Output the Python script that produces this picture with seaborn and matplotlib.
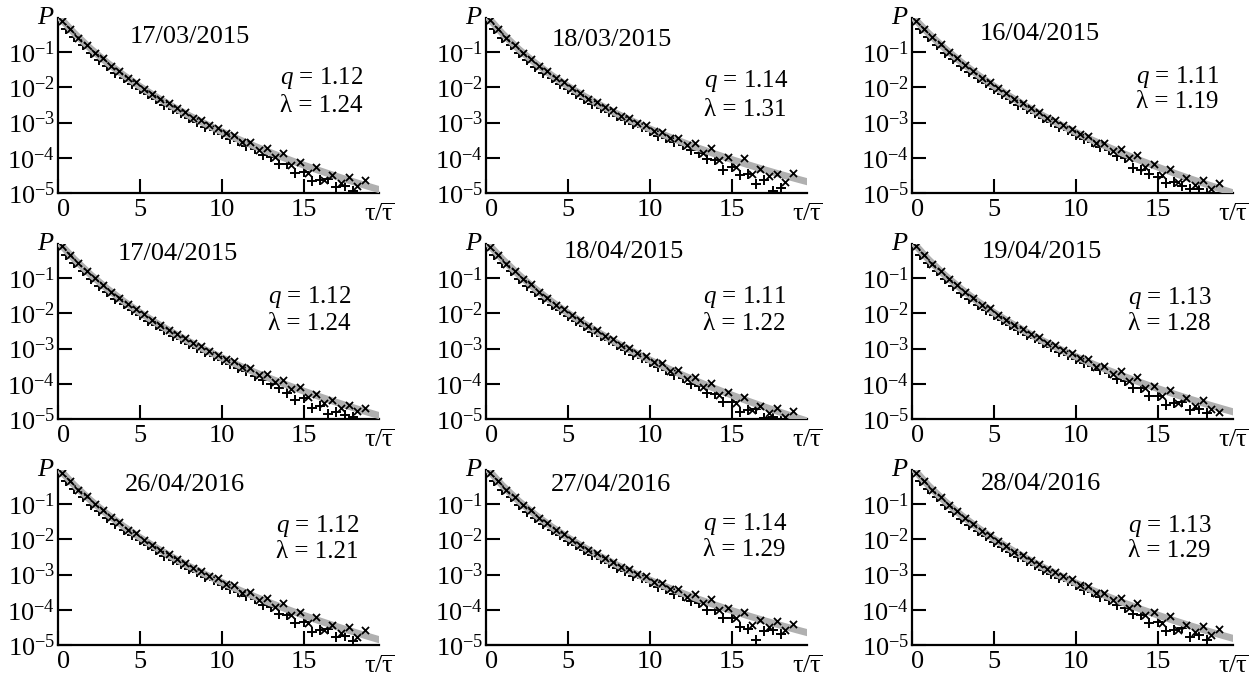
import numpy as np
import pandas as pd
import matplotlib
matplotlib.use("Agg")
import matplotlib.pyplot as plt
import matplotlib.transforms as mtrans
from matplotlib.ticker import NullLocator
import seaborn as sns

# ---------------- data (log10 P) ----------------
dates = ["17/03/2015", "18/03/2015", "16/04/2015",
         "17/04/2015", "18/04/2015", "19/04/2015",
         "26/04/2016", "27/04/2016", "28/04/2016"]
q_values = ["1.12", "1.14", "1.11", "1.12", "1.11", "1.13", "1.12", "1.14", "1.13"]
lam_values = ["1.24", "1.31", "1.19", "1.24", "1.22", "1.28", "1.21", "1.29", "1.29"]

# fitted (grey) curve, log10 P at tau = 0, 1, ..., 20
fit1 = [0.038, -0.464, -0.905, -1.298, -1.652, -1.975, -2.271, -2.545, -2.800, -3.038, -3.261, -3.471, -3.670, -3.858, -4.037, -4.208, -4.370, -4.526, -4.676, -4.819, -4.958]
fit2 = [0.052, -0.471, -0.918, -1.308, -1.655, -1.967, -2.250, -2.510, -2.750, -2.972, -3.180, -3.374, -3.557, -3.730, -3.894, -4.049, -4.197, -4.339, -4.474, -4.603, -4.728]
fit3 = [0.025, -0.461, -0.893, -1.283, -1.638, -1.963, -2.264, -2.543, -2.804, -3.048, -3.279, -3.497, -3.703, -3.899, -4.086, -4.264, -4.435, -4.598, -4.756, -4.907, -5.052]
fit4 = [0.038, -0.464, -0.905, -1.298, -1.652, -1.975, -2.271, -2.545, -2.800, -3.038, -3.261, -3.471, -3.670, -3.858, -4.037, -4.208, -4.370, -4.526, -4.676, -4.819, -4.958]
fit5 = [0.036, -0.461, -0.903, -1.300, -1.661, -1.991, -2.296, -2.579, -2.844, -3.091, -3.324, -3.544, -3.753, -3.950, -4.139, -4.319, -4.491, -4.656, -4.814, -4.966, -5.113]
fit6 = [0.047, -0.468, -0.913, -1.306, -1.658, -1.976, -2.266, -2.533, -2.781, -3.011, -3.227, -3.429, -3.620, -3.800, -3.972, -4.135, -4.290, -4.438, -4.581, -4.717, -4.848]
fit7 = [0.027, -0.463, -0.895, -1.281, -1.630, -1.948, -2.240, -2.511, -2.763, -2.998, -3.219, -3.427, -3.624, -3.811, -3.988, -4.157, -4.319, -4.474, -4.622, -4.765, -4.902]
fit8 = [0.045, -0.470, -0.912, -1.298, -1.642, -1.951, -2.232, -2.490, -2.728, -2.949, -3.156, -3.349, -3.531, -3.703, -3.866, -4.021, -4.169, -4.309, -4.444, -4.573, -4.697]
fit9 = [0.050, -0.468, -0.916, -1.311, -1.665, -1.984, -2.276, -2.544, -2.792, -3.023, -3.240, -3.443, -3.634, -3.815, -3.987, -4.150, -4.306, -4.454, -4.597, -4.733, -4.864]

# "+" markers, log10 P at tau = 0, 0.5, 1, ..., 18
plus1 = [-0.08, -0.34, -0.58, -0.80, -1.02, -1.21, -1.40, -1.58, -1.74, -1.90, -2.06, -2.20, -2.34, -2.49, -2.62, -2.73, -2.87, -2.98, -3.12, -3.20, -3.33, -3.46, -3.53, -3.67, -3.75, -3.91, -3.98, -4.17, -4.19, -4.42, -4.41, -4.67, -4.62, -4.60, -4.83, -4.80, -4.93]
plus2 = [-0.07, -0.34, -0.59, -0.81, -1.03, -1.22, -1.41, -1.59, -1.74, -1.90, -2.05, -2.19, -2.32, -2.46, -2.58, -2.69, -2.82, -2.92, -3.05, -3.13, -3.25, -3.37, -3.43, -3.56, -3.64, -3.79, -3.85, -4.03, -4.05, -4.35, -4.25, -4.50, -4.45, -4.75, -4.64, -4.95, -4.85]
plus3 = [-0.09, -0.34, -0.58, -0.79, -1.01, -1.20, -1.38, -1.57, -1.73, -1.89, -2.05, -2.19, -2.33, -2.49, -2.62, -2.73, -2.87, -2.99, -3.13, -3.21, -3.35, -3.48, -3.56, -3.70, -3.78, -3.95, -4.02, -4.30, -4.35, -4.47, -4.55, -4.73, -4.69, -4.80, -4.90, -4.88, -5.01]
plus4 = [-0.09, -0.35, -0.57, -0.81, -1.01, -1.22, -1.39, -1.59, -1.73, -1.91, -2.05, -2.21, -2.33, -2.48, -2.63, -2.74, -2.86, -2.99, -3.10, -3.22, -3.32, -3.44, -3.55, -3.65, -3.78, -3.88, -4.02, -4.12, -4.25, -4.45, -4.40, -4.70, -4.62, -4.85, -4.80, -4.90, -4.95]
plus5 = [-0.08, -0.34, -0.58, -0.80, -1.02, -1.21, -1.40, -1.59, -1.75, -1.91, -2.08, -2.22, -2.37, -2.52, -2.65, -2.77, -2.91, -3.03, -3.17, -3.26, -3.39, -3.53, -3.60, -3.75, -3.83, -4.00, -4.07, -4.27, -4.29, -4.53, -4.52, -4.79, -4.74, -4.73, -4.96, -4.93, -5.07]
plus6 = [-0.07, -0.34, -0.58, -0.81, -1.03, -1.22, -1.41, -1.59, -1.75, -1.90, -2.06, -2.20, -2.33, -2.48, -2.61, -2.71, -2.85, -2.96, -3.09, -3.17, -3.30, -3.42, -3.49, -3.62, -3.70, -3.86, -3.92, -4.11, -4.12, -4.35, -4.34, -4.59, -4.54, -4.52, -4.74, -4.71, -4.83]
plus7 = [-0.09, -0.34, -0.58, -0.79, -1.01, -1.20, -1.38, -1.56, -1.72, -1.88, -2.03, -2.17, -2.31, -2.46, -2.59, -2.69, -2.83, -2.94, -3.08, -3.16, -3.29, -3.42, -3.49, -3.62, -3.70, -3.86, -3.93, -4.12, -4.14, -4.37, -4.36, -4.62, -4.57, -4.55, -4.78, -4.75, -4.88]
plus8 = [-0.07, -0.34, -0.59, -0.81, -1.03, -1.21, -1.40, -1.57, -1.73, -1.88, -2.04, -2.17, -2.30, -2.44, -2.56, -2.67, -2.80, -2.90, -3.03, -3.10, -3.22, -3.35, -3.41, -3.54, -3.61, -3.76, -3.82, -4.01, -4.02, -4.24, -4.22, -4.48, -4.55, -4.85, -4.61, -4.58, -4.70]
plus9 = [-0.07, -0.34, -0.58, -0.81, -1.03, -1.22, -1.41, -1.59, -1.75, -1.91, -2.07, -2.21, -2.35, -2.49, -2.62, -2.73, -2.86, -2.97, -3.10, -3.18, -3.31, -3.44, -3.50, -3.64, -3.71, -3.87, -3.94, -4.12, -4.14, -4.37, -4.35, -4.61, -4.56, -4.53, -4.76, -4.72, -4.85]

# "x" markers, log10 P at tau = 0.25, 0.75, ..., 18.75
cross1 = [-0.11, -0.34, -0.59, -0.79, -1.01, -1.18, -1.39, -1.54, -1.74, -1.86, -2.04, -2.18, -2.34, -2.45, -2.60, -2.70, -2.86, -2.93, -3.07, -3.15, -3.31, -3.35, -3.55, -3.54, -3.77, -3.71, -3.98, -3.87, -4.20, -4.12, -4.43, -4.25, -4.63, -4.49, -4.71, -4.54, -4.81, -4.63]
cross2 = [-0.10, -0.34, -0.60, -0.80, -1.02, -1.19, -1.40, -1.54, -1.74, -1.85, -2.03, -2.16, -2.32, -2.42, -2.56, -2.65, -2.81, -2.87, -3.00, -3.07, -3.23, -3.26, -3.45, -3.43, -3.65, -3.59, -3.85, -3.73, -4.05, -3.97, -4.27, -4.02, -4.45, -4.31, -4.52, -4.45, -4.70, -4.42]
cross3 = [-0.12, -0.34, -0.58, -0.78, -1.00, -1.17, -1.37, -1.53, -1.73, -1.85, -2.03, -2.17, -2.33, -2.45, -2.60, -2.70, -2.86, -2.94, -3.08, -3.17, -3.33, -3.37, -3.58, -3.57, -3.81, -3.75, -4.02, -3.92, -4.25, -4.17, -4.49, -4.31, -4.70, -4.56, -4.78, -4.62, -4.89, -4.72]
cross4 = [-0.10, -0.33, -0.58, -0.80, -1.00, -1.19, -1.38, -1.55, -1.73, -1.87, -2.03, -2.19, -2.33, -2.46, -2.59, -2.71, -2.85, -2.94, -3.06, -3.17, -3.30, -3.36, -3.53, -3.55, -3.75, -3.73, -3.96, -3.90, -4.16, -4.10, -4.38, -4.28, -4.55, -4.45, -4.68, -4.60, -4.78, -4.70]
cross5 = [-0.11, -0.34, -0.59, -0.79, -1.01, -1.18, -1.39, -1.55, -1.75, -1.87, -2.06, -2.20, -2.37, -2.48, -2.64, -2.74, -2.91, -2.98, -3.13, -3.21, -3.38, -3.42, -3.63, -3.62, -3.86, -3.80, -4.08, -3.97, -4.31, -4.23, -4.55, -4.37, -4.75, -4.62, -4.84, -4.68, -4.95, -4.78]
cross6 = [-0.10, -0.34, -0.59, -0.80, -1.02, -1.19, -1.40, -1.55, -1.75, -1.86, -2.04, -2.18, -2.33, -2.44, -2.59, -2.68, -2.84, -2.91, -3.04, -3.12, -3.27, -3.31, -3.51, -3.49, -3.72, -3.65, -3.92, -3.81, -4.13, -4.05, -4.36, -4.17, -4.55, -4.40, -4.62, -4.45, -4.71, -4.80]
cross7 = [-0.11, -0.34, -0.59, -0.78, -1.00, -1.16, -1.37, -1.52, -1.72, -1.83, -2.01, -2.15, -2.31, -2.42, -2.57, -2.66, -2.82, -2.89, -3.03, -3.11, -3.27, -3.31, -3.51, -3.49, -3.72, -3.66, -3.93, -3.82, -4.15, -4.07, -4.38, -4.20, -4.58, -4.44, -4.66, -4.49, -4.76, -4.58]
cross8 = [-0.11, -0.34, -0.60, -0.80, -1.02, -1.18, -1.39, -1.53, -1.73, -1.84, -2.01, -2.15, -2.30, -2.40, -2.54, -2.63, -2.78, -2.85, -2.98, -3.05, -3.20, -3.23, -3.42, -3.41, -3.63, -3.56, -3.82, -3.70, -4.02, -3.94, -4.24, -4.05, -4.42, -4.28, -4.49, -4.31, -4.57, -4.39]
cross9 = [-0.11, -0.34, -0.60, -0.80, -1.02, -1.19, -1.40, -1.55, -1.75, -1.87, -2.05, -2.19, -2.35, -2.45, -2.60, -2.70, -2.85, -2.92, -3.05, -3.13, -3.29, -3.32, -3.52, -3.51, -3.73, -3.67, -3.94, -3.82, -4.15, -4.07, -4.37, -4.19, -4.57, -4.42, -4.64, -4.47, -4.73, -4.55]

fits = [fit1, fit2, fit3, fit4, fit5, fit6, fit7, fit8, fit9]
pluses = [plus1, plus2, plus3, plus4, plus5, plus6, plus7, plus8, plus9]
crosses = [cross1, cross2, cross3, cross4, cross5, cross6, cross7, cross8, cross9]

# ---------------- layout (pixels in the 1260x677 figure) ----------------
date_pos = [(190, 37), (612, 40), (1040, 34),
            (178, 254), (624, 252), (1042, 252),
            (185, 485), (611, 485), (1041, 484)]
q_pos = [(280, 78), (704, 81), (1136, 77),
         (268, 297), (703, 297), (1128, 298),
         (276, 526), (703, 524), (1128, 526)]
lam_pos = [(280, 106), (704, 110), (1136, 102),
           (268, 324), (703, 324), (1128, 324),
           (276, 552), (703, 550), (1128, 551)]

sns.set_style("ticks")
plt.rcParams["font.family"] = ["Liberation Serif", "DejaVu Serif"]
plt.rcParams["mathtext.fontset"] = "custom"
plt.rcParams["mathtext.rm"] = "Liberation Serif"
plt.rcParams["mathtext.it"] = "Liberation Serif:italic"
plt.rcParams["mathtext.bf"] = "Liberation Serif:bold"
plt.rcParams["text.color"] = "black"
plt.rcParams["xtick.color"] = "black"
plt.rcParams["ytick.color"] = "black"

FW, FH = 1260, 677
fig = plt.figure(figsize=(FW / 100, FH / 100), dpi=100)
col_left = [58, 486, 912]
row_bottom = [193, 419, 645]
AW, AH = 321, 175

ytick_vals = [1e-1, 1e-2, 1e-3, 1e-4, 1e-5]
ytick_labels = [r"$10^{-1}$", r"$10^{-2}$", r"$10^{-3}$", r"$10^{-4}$", r"$10^{-5}$"]

zero_shift = mtrans.ScaledTranslation(0.06, 0, fig.dpi_scale_trans)

for i in range(9):
    r, c = divmod(i, 3)
    ax = fig.add_axes([col_left[c] / FW, 1 - row_bottom[r] / FH, AW / FW, AH / FH])
    ax.set_yscale("log")

    fit = np.array(fits[i])
    plus = np.array(pluses[i])
    cross = np.array(crosses[i])
    df_fit = pd.DataFrame({"tau": np.arange(len(fit), dtype=float), "P": 10 ** fit})
    df_plus = pd.DataFrame({"tau": 0.5 * np.arange(len(plus)), "P": 10 ** plus})
    df_cross = pd.DataFrame({"tau": 0.25 + 0.5 * np.arange(len(cross)), "P": 10 ** cross})

    sns.scatterplot(data=df_plus, x="tau", y="P", marker="+", s=46, color="black",
                    linewidth=1.4, ax=ax, zorder=2, legend=False)
    sns.lineplot(data=df_fit, x="tau", y="P", color="#b0b0b0", linewidth=5,
                 ax=ax, zorder=3, legend=False)
    sns.scatterplot(data=df_cross, x="tau", y="P", marker="x", s=26, color="black",
                    linewidth=1.3, ax=ax, zorder=4, legend=False)
    sns.lineplot(data=df_cross[df_cross["tau"] < 12], x="tau", y="P", color="black",
                 linewidth=1.2, linestyle=":", ax=ax, zorder=4, legend=False)

    ax.set_xlim(0, 19.6)
    ax.set_ylim(1e-5, 10 ** -0.03)
    ax.set_xticks([0, 5, 10, 15])
    ax.set_xticklabels(["0", "5", "10", "15"])
    ax.set_yticks(ytick_vals)
    ax.set_yticklabels(ytick_labels)
    ax.yaxis.set_minor_locator(NullLocator())
    ax.tick_params(axis="both", direction="in", length=10, width=1.5,
                   labelsize=19, colors="black")
    ax.tick_params(axis="y", pad=2)
    ax.tick_params(axis="x", pad=4)
    ax.set_xlabel("")
    ax.set_ylabel("")
    for s in ["top", "right"]:
        ax.spines[s].set_visible(False)
    for s in ["left", "bottom"]:
        ax.spines[s].set_linewidth(1.6)
        ax.spines[s].set_color("black")

    lab0 = ax.get_xticklabels()[0]
    lab0.set_transform(lab0.get_transform() + zero_shift)

    ax.text(-0.012, 1.0, "$P$", transform=ax.transAxes, ha="right", va="center",
            fontsize=19)
    ax.text(1.0, -0.125, r"$\mathrm{τ}/\overline{\mathrm{τ}}$", transform=ax.transAxes,
            ha="center", va="center", fontsize=19)

    dx, dy = date_pos[i]
    fig.text(dx / FW, 1 - dy / FH, dates[i], ha="center", va="center", fontsize=19)
    qx, qy = q_pos[i]
    fig.text(qx / FW, 1 - qy / FH, "$q$ = " + q_values[i], ha="left", va="center", fontsize=18)
    lx, ly = lam_pos[i]
    fig.text(lx / FW, 1 - ly / FH, "λ = " + lam_values[i], ha="left", va="center", fontsize=18)

fig.savefig("out.png", dpi=100)
